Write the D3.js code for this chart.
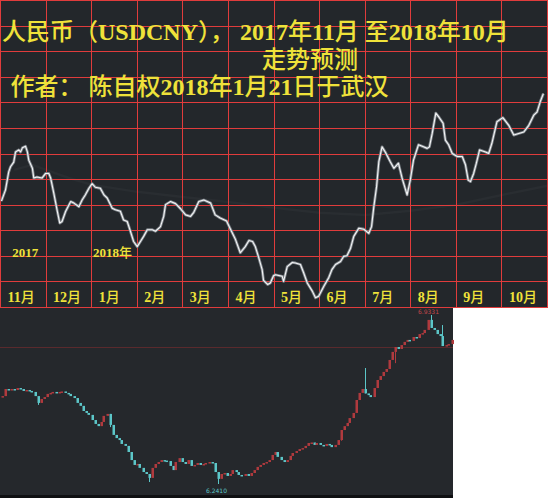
<!DOCTYPE html>
<html>
<head>
<meta charset="utf-8">
<script src="https://cdn.jsdelivr.net/npm/d3@7"></script>
<style>
  body { margin: 0; background: #fff; }
  svg { display: block; }
</style>
</head>
<body>
<svg id="chart"></svg>
<script>
// forecast line: month offset from 2017-11-01, and rate
var fcT = [0.02,0.11,0.18,0.22,0.29,0.33,0.40,0.44,0.48,0.55,
  0.59,0.62,0.70,0.73,0.80,0.91,0.99,1.06,1.10,1.17,
  1.24,1.30,1.35,1.43,1.54,1.61,1.72,1.79,1.86,1.94,
  2.01,2.08,2.19,2.27,2.34,2.45,2.52,2.63,2.70,2.78,
  2.85,2.92,3.00,3.07,3.14,3.22,3.33,3.40,3.51,3.58,
  3.62,3.73,3.84,3.95,4.06,4.17,4.24,4.35,4.46,4.61,
  4.71,4.82,4.96,5.04,5.15,5.26,5.37,5.45,5.53,5.59,
  5.66,5.74,5.77,5.86,5.92,5.99,6.03,6.18,6.21,6.29,
  6.40,6.47,6.58,6.65,6.73,6.84,6.91,6.98,7.09,7.20,
  7.27,7.35,7.46,7.53,7.60,7.68,7.75,7.86,7.97,8.08,
  8.14,8.19,8.25,8.30,8.37,8.44,8.55,8.63,8.73,8.81,
  8.92,8.99,9.06,9.17,9.28,9.36,9.41,9.47,9.55,9.61,
  9.71,9.76,9.83,9.91,10.02,10.13,10.20,10.26,10.31,10.38,
  10.44,10.51,10.64,10.71,10.78,10.89,11.02,11.15,11.26,11.37,
  11.48,11.59,11.70,11.77,11.84,11.91];
var fcV = [6.308,6.330,6.365,6.375,6.384,6.404,6.408,6.404,6.412,6.415,
  6.404,6.388,6.372,6.353,6.355,6.353,6.362,6.362,6.353,6.323,
  6.291,6.265,6.268,6.288,6.307,6.304,6.297,6.310,6.320,6.333,
  6.342,6.335,6.333,6.320,6.314,6.294,6.291,6.288,6.271,6.268,
  6.249,6.229,6.219,6.229,6.239,6.252,6.252,6.249,6.258,6.278,
  6.301,6.307,6.303,6.293,6.281,6.278,6.286,6.307,6.310,6.304,
  6.281,6.275,6.269,6.254,6.234,6.207,6.219,6.231,6.229,6.219,
  6.199,6.174,6.153,6.145,6.148,6.162,6.164,6.161,6.151,6.180,
  6.188,6.187,6.184,6.168,6.148,6.132,6.119,6.122,6.141,6.158,
  6.174,6.184,6.190,6.200,6.201,6.216,6.239,6.255,6.253,6.245,
  6.258,6.297,6.336,6.385,6.414,6.404,6.385,6.372,6.382,6.353,
  6.320,6.349,6.388,6.418,6.414,6.411,6.414,6.440,6.480,6.473,
  6.460,6.427,6.418,6.401,6.395,6.395,6.379,6.349,6.346,6.362,
  6.382,6.408,6.404,6.401,6.421,6.463,6.471,6.456,6.437,6.440,
  6.443,6.456,6.476,6.482,6.502,6.518];

// faint background average line
var avgT = [0.3,0.7,1.0,1.5,2.0,3.0,4.0,5.0,6.0,7.0,8.0,9.0,10.0,11.0,12.0];
var avgV = [6.369,6.379,6.369,6.353,6.340,6.326,6.316,6.306,6.295,6.285,6.281,6.289,6.301,6.320,6.338];

var months = ["11月","12月","1月","2月","3月","4月","5月","6月","7月","8月","9月","10月"];
var yearMarks = [["2017", 0.26], ["2018年", 2.03]];

var titleLines = ["人民币（USDCNY）， 2017年11月 至2018年10月", "走势预测", "作者： 陈自权2018年1月21日于武汉"];

// daily candles below (close values, one per day)
var kFirstOpen = 6.597;
var kClose = [6.601,6.630,6.626,6.630,6.626,6.634,6.630,6.622,6.626,6.622,
  6.618,6.601,6.573,6.589,6.597,6.610,6.614,6.618,6.614,6.618,
  6.620,6.614,6.610,6.601,6.593,6.573,6.561,6.540,6.532,6.524,
  6.503,6.487,6.478,6.495,6.520,6.528,6.483,6.442,6.429,6.421,
  6.405,6.397,6.372,6.339,6.319,6.323,6.307,6.290,6.282,6.266,
  6.307,6.323,6.331,6.339,6.337,6.335,6.315,6.298,6.331,6.347,
  6.331,6.323,6.339,6.315,6.319,6.327,6.319,6.323,6.327,6.331,
  6.327,6.290,6.262,6.282,6.286,6.274,6.282,6.298,6.290,6.278,
  6.274,6.282,6.274,6.286,6.298,6.311,6.319,6.327,6.331,6.339,
  6.360,6.372,6.352,6.339,6.331,6.339,6.356,6.368,6.376,6.384,
  6.388,6.397,6.409,6.411,6.401,6.409,6.401,6.397,6.405,6.401,
  6.392,6.401,6.421,6.462,6.478,6.491,6.511,6.532,6.585,6.614,
  6.630,6.612,6.605,6.597,6.634,6.667,6.683,6.700,6.712,6.749,
  6.782,6.802,6.794,6.810,6.823,6.831,6.827,6.843,6.839,6.855,
  6.859,6.872,6.913,6.880,6.872,6.855,6.847,6.806,6.810,6.814,
  6.831];
// [day index, high, low]
var kWicks = [[12,6.589,6.565],[36,6.528,6.474],[49,6.282,6.249],[72,6.290,6.2410],[113,6.462,6.418],
  [121,6.716,6.612],[131,6.802,6.736],[143,6.9331,6.880],[147,6.892,6.806]];
var kHigh = 6.9331, kLow = 6.2410, kHighIdx = 143, kLowIdx = 72;
var kRefLine = 6.798;

var width = 548, height = 498;
var svg = d3.select("#chart").attr("width", width).attr("height", height);

var yellow = "#efe23a";
var gridRed = "#e03c3c";

// ---------- top panel ----------
svg.append("rect").attr("x", 0).attr("y", 0).attr("width", 548).attr("height", 308).attr("fill", "#23272b");

var xTop = d3.scaleLinear().domain([0, 12]).range([0.5, 547.5]);
var yTop = d3.scaleLinear().domain([6.1, 6.7]).range([307.5, 0.5]);
function crisp(v) { return Math.floor(v) + 0.5; }

var line = d3.line().x(function(d){ return xTop(d[0]); }).y(function(d){ return yTop(d[1]); });

svg.append("path").datum(d3.zip(avgT, avgV))
  .attr("d", line).attr("fill", "none")
  .attr("stroke", "#292d31").attr("stroke-width", 2.5);

var grid = svg.append("g").attr("stroke", gridRed).attr("stroke-width", 1);
grid.selectAll("line.v").data(d3.range(13)).enter().append("line")
  .attr("class", "v")
  .attr("x1", function(d){ return crisp(xTop(d)); }).attr("x2", function(d){ return crisp(xTop(d)); })
  .attr("y1", 0).attr("y2", 308);
grid.selectAll("line.h").data(d3.range(13).map(function(i){ return 6.1 + i * 0.05; })).enter().append("line")
  .attr("class", "h")
  .attr("x1", 0).attr("x2", 548)
  .attr("y1", function(d){ return crisp(yTop(d)); }).attr("y2", function(d){ return crisp(yTop(d)); });

var fc = d3.zip(fcT, fcV);
svg.append("path").datum(fc).attr("d", line).attr("fill", "none")
  .attr("stroke", "#7c8288").attr("stroke-width", 2.8).attr("stroke-linejoin", "round");
svg.append("path").datum(fc).attr("d", line).attr("fill", "none")
  .attr("stroke", "#f4f5f6").attr("stroke-width", 1.1).attr("stroke-linejoin", "round");

var latinFont = "'Liberation Serif',serif";
var cjkFont = "'Noto Sans CJK SC','Noto Sans CJK JP',sans-serif";

// write a string as runs: Latin bold serif, CJK in the CJK font
function addRuns(text, str) {
  var runs = str.match(/[\u3000-\u9fff\uff00-\uffef]+|[^\u3000-\u9fff\uff00-\uffef]+/g);
  text.selectAll("tspan").data(runs).enter().append("tspan")
    .attr("font-family", function(r){ return /[\u3000-\u9fff\uff00-\uffef]/.test(r) ? cjkFont : latinFont; })
    .attr("font-weight", function(r){ return /[\u3000-\u9fff\uff00-\uffef]/.test(r) ? 500 : "bold"; })
    .attr("xml:space", "preserve")
    .text(function(r){ return r; });
}

// titles
var titlePos = [[2, 40], [262, 68], [10.5, 95]];
titleLines.forEach(function(s, i){
  var t = svg.append("text").attr("x", titlePos[i][0]).attr("y", titlePos[i][1])
    .attr("fill", yellow).attr("font-size", 24).style("white-space", "pre");
  addRuns(t, s);
});

// year marks
yearMarks.forEach(function(d){
  var t = svg.append("text").attr("x", xTop(d[1])).attr("y", 257)
    .attr("fill", yellow).attr("font-size", 13);
  addRuns(t, d[0]);
});

// month labels
months.forEach(function(m, i){
  var t = svg.append("text").attr("x", xTop(i) + 7).attr("y", 302)
    .attr("fill", yellow).attr("font-size", 14);
  addRuns(t, m);
});

// ---------- bottom candle panel ----------
svg.append("rect").attr("x", 0).attr("y", 308).attr("width", 453).attr("height", 190).attr("fill", "#25282c");
svg.append("rect").attr("x", 0).attr("y", 495).attr("width", 453).attr("height", 3).attr("fill", "#0f1012");

var xBot = d3.scaleLinear().domain([0, kClose.length - 1]).range([1.5, 451.5]);
var yBot = d3.scaleLinear().domain([kLow, kHigh]).range([484, 315]);

svg.append("line").attr("x1", 0).attr("x2", 453)
  .attr("y1", crisp(yBot(kRefLine))).attr("y2", crisp(yBot(kRefLine)))
  .attr("stroke", "#5a2a2d").attr("stroke-width", 1);

var upCol = "#b03a3e", downCol = "#5cc6c8";
var candles = kClose.map(function(c, i){
  var o = i === 0 ? kFirstOpen : kClose[i - 1];
  return { i: i, open: o, close: c };
});

svg.append("g").selectAll("line").data(kWicks).enter().append("line")
  .attr("x1", function(d){ return Math.round(xBot(d[0])) + 0.5; })
  .attr("x2", function(d){ return Math.round(xBot(d[0])) + 0.5; })
  .attr("y1", function(d){ return yBot(d[1]); })
  .attr("y2", function(d){ return yBot(d[2]); })
  .attr("stroke", function(d){
    var c = candles[d[0]]; return c.close >= c.open ? upCol : downCol;
  }).attr("stroke-width", 1);

svg.append("g").selectAll("rect").data(candles).enter().append("rect")
  .attr("x", function(d){ return Math.round(xBot(d.i)) - 0.5; })
  .attr("width", 2.5)
  .attr("y", function(d){ return yBot(Math.max(d.open, d.close)); })
  .attr("height", function(d){ return Math.max(1.5, Math.abs(yBot(d.open) - yBot(d.close))); })
  .attr("fill", function(d){ return d.close >= d.open ? upCol : downCol; });

svg.append("text").attr("x", xBot(kHighIdx) - 2).attr("y", yBot(kHigh) - 1.5)
  .attr("text-anchor", "middle").attr("fill", "#c0464a")
  .attr("font-family", "'DejaVu Sans',sans-serif").attr("font-size", 6)
  .text(kHigh.toFixed(4));
svg.append("text").attr("x", xBot(kLowIdx) - 1).attr("y", yBot(kLow) + 9)
  .attr("text-anchor", "middle").attr("fill", downCol)
  .attr("font-family", "'DejaVu Sans',sans-serif").attr("font-size", 6)
  .text(kLow.toFixed(4));
</script>
</body>
</html>
